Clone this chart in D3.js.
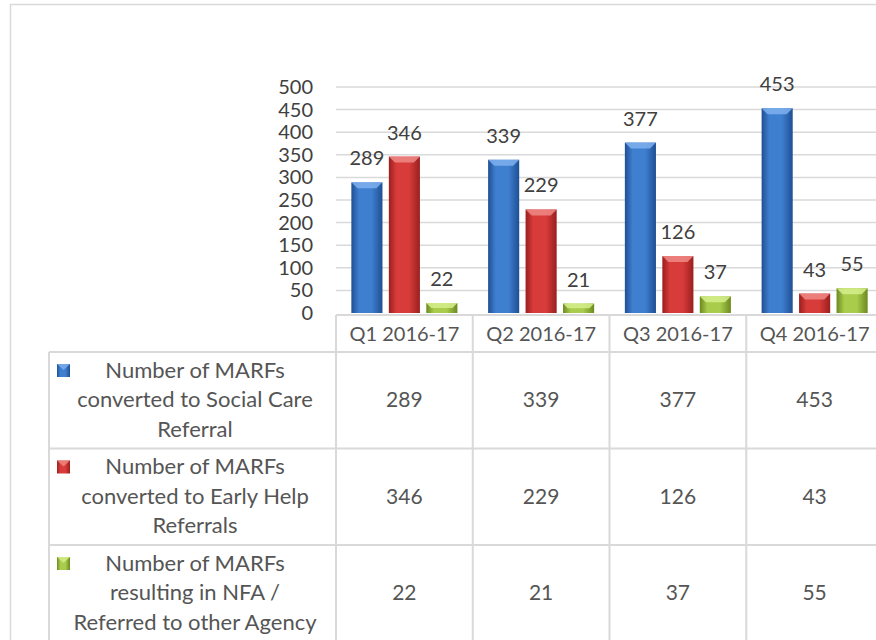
<!DOCTYPE html>
<html>
<head>
<meta charset="utf-8">
<script src="https://cdn.jsdelivr.net/npm/d3@7"></script>
<style>
  body { margin: 0; background: #fff; }
  svg text { font-family: Lato, "Open Sans", sans-serif; fill: #404040; }
</style>
</head>
<body>
<script>
// data
let categories = ["Q1 2016-17", "Q2 2016-17", "Q3 2016-17", "Q4 2016-17"];
let seriesKeys = ["social", "earlyHelp", "nfa"];
let seriesLabels = [
    ["Number of MARFs", "converted to Social Care", "Referral"],
    ["Number of MARFs", "converted to Early Help", "Referrals"],
    ["Number of MARFs", "resulting in NFA /", "Referred to other Agency"]
];
let socialCare = [289, 339, 377, 453];
let earlyHelp = [346, 229, 126, 43];
let nfa = [22, 21, 37, 55];
let yTicks = [0, 50, 100, 150, 200, 250, 300, 350, 400, 450, 500];

let seriesValues = [socialCare, earlyHelp, nfa];
let seriesColors = [
    { mid: "#3f7fd0", edge: "#1f4f93", top: "#7fb0ee" },
    { mid: "#d83c3a", edge: "#9a1f1e", top: "#ef8a86" },
    { mid: "#a9cc4c", edge: "#6b8a1e", top: "#d6ef8c" }
];

let svgWidth = 876,
    svgHeight = 640,
    plot = { left: 336, right: 883, top: 87, bottom: 313 },
    table = { left: 49, axisY: 315, headerBottom: 352, rowHeight: 96.5 },
    gridColor = "#d9d9d9",
    tableText = "#555555";

let svg = d3.select("body").append("svg")
    .attr("width", svgWidth)
    .attr("height", svgHeight);

let defs = svg.append("defs");
seriesColors.forEach((c, i) => {
    let g = defs.append("linearGradient").attr("id", "grad" + i)
        .attr("x1", "0").attr("x2", "1").attr("y1", "0").attr("y2", "0");
    g.append("stop").attr("offset", "0%").attr("stop-color", c.edge);
    g.append("stop").attr("offset", "25%").attr("stop-color", c.mid);
    g.append("stop").attr("offset", "65%").attr("stop-color", c.mid);
    g.append("stop").attr("offset", "100%").attr("stop-color", c.edge);
});

// outer chart border
svg.append("rect")
    .attr("x", 10.5).attr("y", 4.5)
    .attr("width", 900).attr("height", 700)
    .attr("fill", "none").attr("stroke", gridColor).attr("stroke-width", 1.5);

let x = d3.scaleBand().domain(categories).range([plot.left, plot.right]);
let xInner = d3.scaleBand().domain(seriesKeys).range([0, x.bandwidth()])
    .paddingInner(0.17).paddingOuter(0.41);
let y = d3.scaleLinear().domain([0, 500]).range([plot.bottom, plot.top]);

// gridlines
svg.append("g").selectAll("line").data(yTicks.slice(1)).join("line")
    .attr("x1", plot.left).attr("x2", plot.right)
    .attr("y1", d => y(d)).attr("y2", d => y(d))
    .attr("stroke", gridColor).attr("stroke-width", 1.5);

// y axis labels
let yAxis = d3.axisLeft(y).tickValues(yTicks).tickSize(0).tickPadding(0);
let yg = svg.append("g")
    .attr("transform", "translate(313,0)")
    .call(yAxis);
yg.select(".domain").remove();
yg.selectAll("text")
    .style("font-size", "20px")
    .style("font-family", "Lato, sans-serif")
    .attr("fill", "#404040");

// bars
seriesKeys.forEach((key, si) => {
    let vals = seriesValues[si];
    let g = svg.append("g");
    categories.forEach((cat, ci) => {
        let bx = x(cat) + xInner(key),
            bw = xInner.bandwidth(),
            by = y(vals[ci]),
            bh = y(0) - y(vals[ci]);
        g.append("rect")
            .attr("x", bx).attr("y", by)
            .attr("width", bw).attr("height", bh)
            .attr("fill", "url(#grad" + si + ")");
        let bev = Math.min(6, bh / 2);
        g.append("polygon")
            .attr("points", [
                [bx, by], [bx + bw, by], [bx + bw - bev, by + bev], [bx + bev, by + bev]
            ].map(p => p.join(",")).join(" "))
            .attr("fill", seriesColors[si].top)
            .attr("opacity", 0.85);
        g.append("text")
            .attr("x", bx + bw / 2)
            .attr("y", by - 17)
            .attr("text-anchor", "middle")
            .style("font-size", "20px")
            .text(vals[ci]);
    });
});

// table grid
let rowTops = seriesKeys.map((k, i) => table.headerBottom + i * table.rowHeight);
let bounds = categories.map(c => x(c)).concat([plot.right]);
let tg = svg.append("g").attr("stroke", gridColor).attr("stroke-width", 2);
tg.append("line").attr("x1", plot.left).attr("x2", plot.right)
    .attr("y1", table.axisY).attr("y2", table.axisY);
rowTops.concat([table.headerBottom + 3 * table.rowHeight]).forEach(ry => {
    tg.append("line").attr("x1", table.left).attr("x2", plot.right)
        .attr("y1", ry).attr("y2", ry);
});
tg.append("line").attr("x1", table.left).attr("x2", table.left)
    .attr("y1", table.headerBottom).attr("y2", svgHeight + 20);
bounds.forEach(bx => {
    tg.append("line").attr("x1", bx).attr("x2", bx)
        .attr("y1", table.axisY).attr("y2", svgHeight + 20);
});

// category labels
svg.append("g").selectAll("text").data(categories).join("text")
    .attr("x", d => x(d) + x.bandwidth() / 2)
    .attr("y", 341)
    .attr("text-anchor", "middle")
    .style("font-size", "20px")
    .style("fill", tableText)
    .text(d => d);

// table rows
seriesKeys.forEach((key, si) => {
    let top = rowTops[si],
        mid = top + table.rowHeight / 2;
    svg.append("rect")
        .attr("x", 57).attr("y", top + 12)
        .attr("width", 13).attr("height", 13)
        .attr("fill", "url(#grad" + si + ")");
    svg.append("polygon")
        .attr("points", [[57, top + 12], [70, top + 12], [63.5, top + 18]].map(p => p.join(",")).join(" "))
        .attr("fill", seriesColors[si].top).attr("opacity", 0.8);
    let lines = seriesLabels[si];
    lines.forEach((ln, li) => {
        svg.append("text")
            .attr("x", 195)
            .attr("y", mid + (li - (lines.length - 1) / 2) * 29.5 + 7)
            .attr("text-anchor", "middle")
            .style("font-size", "22px")
            .style("fill", tableText)
            .text(ln);
    });
    categories.forEach((cat, ci) => {
        svg.append("text")
            .attr("x", x(cat) + x.bandwidth() / 2)
            .attr("y", mid + 7)
            .attr("text-anchor", "middle")
            .style("font-size", "21px")
            .style("fill", tableText)
            .text(seriesValues[si][ci]);
    });
});
</script>
</body>
</html>
